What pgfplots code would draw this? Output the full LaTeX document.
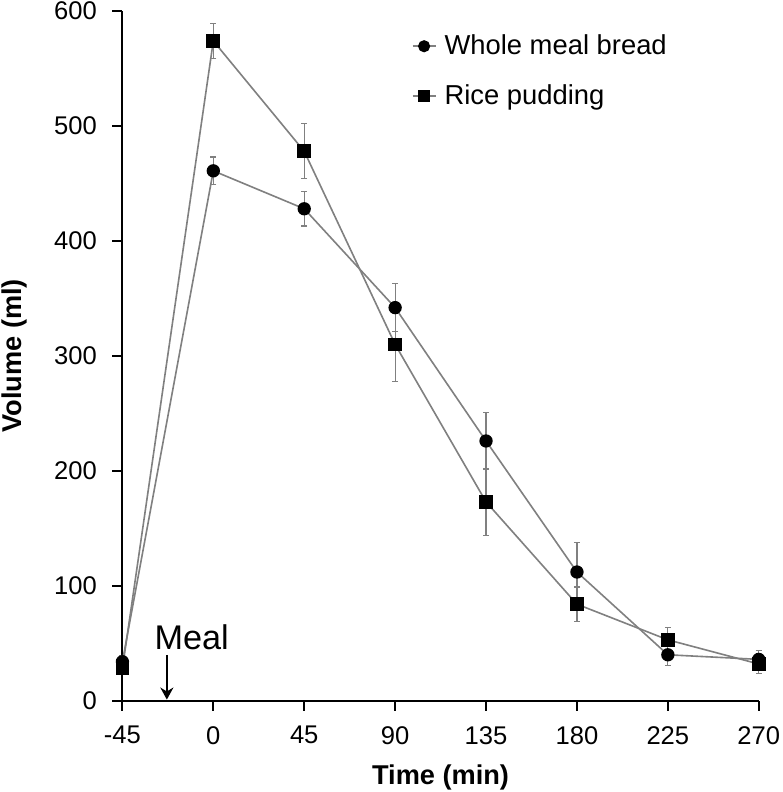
\documentclass[border=0pt]{standalone}
\usepackage{fontspec}
\setmainfont{Liberation Sans}
\usepackage{pgfplots}
\pgfplotsset{compat=1.18}
\usetikzlibrary{arrows.meta}

\begin{document}
\begin{tikzpicture}
\begin{axis}[
    scale only axis,
    width=316pt, height=342.5pt,
    xmin=-45, xmax=270, ymin=0, ymax=600,
    axis lines=left,
    axis line style={-, line width=1pt, black},
    xtick={-45,0,45,90,135,180,225,270},
    ytick={0,100,200,300,400,500,600},
    tick style={line width=1pt, black},
    tick align=outside,
    major tick length=5pt,
    clip=false,
    /pgf/number format/assume math mode=true,
    ticklabel style={font=\fontsize{12.7}{14}\selectfont, inner sep=1pt},
    xticklabel style={yshift=-6.5pt},
    yticklabel style={xshift=-6.5pt},
    xlabel={\textbf{Time (min)}},
    ylabel={\textbf{Volume (ml)}},
    label style={font=\fontsize{13.5}{15}\selectfont, inner sep=1pt},
    xlabel style={at={(axis description cs:0.5,-0.111)}, anchor=center},
    ylabel style={at={(axis description cs:-0.1693,0.5)}, anchor=center},
    legend style={draw=none, fill=none, inner sep=0pt,
        at={(axis description cs:0.454,0.972)}, anchor=north west,
        font=\fontsize{13.6}{15}\selectfont, row sep=9.5pt,
        nodes={inner sep=2pt}},
    legend cell align=left,
    legend image code/.code={
        \draw[mark=none] (0pt,0pt) -- (11.5pt,0pt);
        \draw[mark size=2.6pt] plot coordinates {(5.75pt,0pt)};
        \path (13.5pt,0pt);
    },
]
% Whole meal bread
\addplot[gray, line width=0.8pt, mark=*, mark size=2.9pt,
    mark options={black, fill=black, solid},
    error bars/.cd, y dir=both, y explicit,
    error bar style={gray, line width=0.6pt},
    error mark options={rotate=90, mark size=1.5pt, gray, line width=0.6pt}]
    coordinates {
    (-45,34) +- (0,5)
    (0,461) +- (0,12)
    (45,428) +- (0,15)
    (90,342) +- (0,21)
    (135,226) +- (0,25)
    (180,112) +- (0,26)
    (225,40) +- (0,9)
    (270,36) +- (0,8)
    };
\addlegendentry{Whole meal bread}
% Rice pudding
\addplot[gray, line width=0.8pt, mark=square*, mark size=3pt,
    mark options={black, fill=black, solid},
    error bars/.cd, y dir=both, y explicit,
    error bar style={gray, line width=0.6pt},
    error mark options={rotate=90, mark size=1.5pt, gray, line width=0.6pt}]
    coordinates {
    (-45,28) +- (0,5)
    (0,574) +- (0,15)
    (45,478) +- (0,24)
    (90,310) +- (0,32)
    (135,173) +- (0,29)
    (180,84) +- (0,15)
    (225,53) +- (0,11)
    (270,32) +- (0,8)
    };
\addlegendentry{Rice pudding}
% Meal annotation
\node[font=\fontsize{17}{19}\selectfont, inner sep=0pt] at (axis cs:-10.7,55) {Meal};
\draw[line width=0.8pt, -{Stealth[length=6pt, width=6.5pt]}] (axis cs:-23,40) -- (axis cs:-23,1);
\end{axis}
\end{tikzpicture}
\end{document}
